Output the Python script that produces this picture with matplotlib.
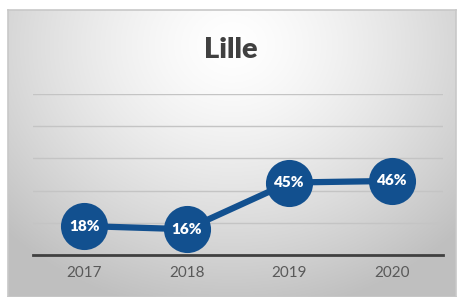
import matplotlib
matplotlib.use("Agg")
import matplotlib.pyplot as plt
import numpy as np

years = ["2017", "2018", "2019", "2020"]
values = [18, 16, 45, 46]
grid_steps = [20, 40, 60, 80, 100]
title = "Lille"

W, H = 462, 297
fig = plt.figure(figsize=(W / 100, H / 100), dpi=100)
fig.patch.set_facecolor("white")

# chart box with soft radial gradient
bx0, by0, bx1, by1 = 8, 10, 456, 297
bg = fig.add_axes([bx0 / W, 1 - by1 / H, (bx1 - bx0) / W, (by1 - by0) / H])
yy, xx = np.mgrid[0:1:200j, 0:1:300j]
r = np.sqrt(((xx - 0.5) / 0.7) ** 2 + ((yy - 0.12) / 0.95) ** 2)
shade = 1 - 0.25 * np.clip(r, 0, 1) ** 1.4
bg.imshow(np.dstack([shade] * 3), extent=[0, 1, 0, 1], origin="upper", aspect="auto")
bg.set_xticks([])
bg.set_yticks([])
for s in bg.spines.values():
    s.set_color("#c8c8c8")
    s.set_linewidth(1.2)

# plot area
px0, px1, py0, py1 = 33, 443, 94, 255
ax = fig.add_axes([px0 / W, 1 - py1 / H, (px1 - px0) / W, (py1 - py0) / H])
ax.set_facecolor("none")
x = np.arange(len(years))
ax.set_xlim(-0.5, len(years) - 0.5)
ax.set_ylim(0, 100)

for g in grid_steps:
    ax.axhline(g, color="#c4c4c4", lw=1.0, zorder=1)

blue = "#12508f"
ax.plot(x, values, color=blue, lw=4.5, zorder=2, solid_capstyle="round")
ax.scatter(x, values, s=1150, color=blue, zorder=3, linewidths=0)
for xi, v in zip(x, values):
    ax.text(xi, v, f"{v}%", color="white", fontsize=11, fontweight="heavy",
            family=["Lato", "DejaVu Sans"], ha="center", va="center", zorder=4)

ax.set_xticks(x)
ax.set_xticklabels(years, color="#595959", fontsize=11, family=["Lato", "DejaVu Sans"])
ax.tick_params(axis="x", length=0, pad=8)
ax.set_yticks([])
for side in ["top", "left", "right"]:
    ax.spines[side].set_visible(False)
ax.spines["bottom"].set_color("#404040")
ax.spines["bottom"].set_linewidth(2)

fig.text(0.5, 1 - 50 / H, title, ha="center", va="center", fontsize=21,
         fontweight="heavy", color="#404040", family=["Lato", "DejaVu Sans"])

fig.savefig("out.png", dpi=100)
